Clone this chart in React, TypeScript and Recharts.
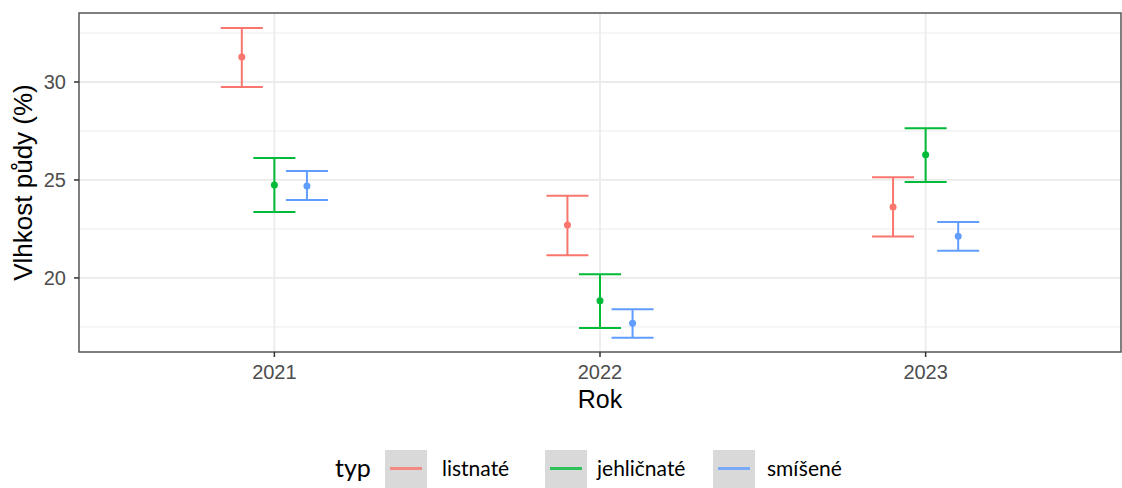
import React from 'react';
import {
  ScatterChart,
  Scatter,
  XAxis,
  YAxis,
  CartesianGrid,
  ErrorBar,
  ReferenceArea,
} from 'recharts';

// Roky (kategorie na ose x)
const years = [2021, 2022, 2023];

// Průměrná vlhkost půdy a meze chybových úseček
const listnateMean = [31.28, 22.7, 23.62];
const listnateLower = [29.74, 21.16, 22.11];
const listnateUpper = [32.76, 24.2, 25.14];

const jehlicnateMean = [24.74, 18.83, 26.28];
const jehlicnateLower = [23.37, 17.45, 24.9];
const jehlicnateUpper = [26.12, 20.19, 27.64];

const smiseneMean = [24.69, 17.69, 22.13];
const smiseneLower = [23.98, 16.95, 21.39];
const smiseneUpper = [25.46, 18.4, 22.86];

const yTicks = [20, 25, 30];
const yMinor = [17.5, 22.5, 27.5, 32.5];

const X_DOMAIN: [number, number] = [2020.4, 2023.6];
const Y_DOMAIN: [number, number] = [16.22, 33.52];
const DODGE = 0.1;

const colors = {
  listnate: '#F8766D',
  jehlicnate: '#00BA38',
  smisene: '#619CFF',
};

const buildSeries = (mean: number[], lower: number[], upper: number[], shift: number) =>
  years.map((year, i) => ({
    x: year + shift,
    y: mean[i],
    err: [mean[i] - lower[i], upper[i] - mean[i]],
  }));

const listnateData = buildSeries(listnateMean, listnateLower, listnateUpper, -DODGE);
const jehlicnateData = buildSeries(jehlicnateMean, jehlicnateLower, jehlicnateUpper, 0);
const smiseneData = buildSeries(smiseneMean, smiseneLower, smiseneUpper, DODGE);

const dot = (color: string) => (props: any) => (
  <circle cx={props.cx} cy={props.cy} r={3.5} fill={color} />
);

const tickStyle = { fontSize: 20, fill: '#4d4d4d', fontFamily: '"Liberation Sans", Arial, sans-serif' };

const legendItems = [
  { label: 'listnaté', color: colors.listnate, box: 385, text: 442 },
  { label: 'jehličnaté', color: colors.jehlicnate, box: 545, text: 597 },
  { label: 'smíšené', color: colors.smisene, box: 713, text: 767 },
];

const App: React.FC = () => {
  return (
    <div style={{ position: 'absolute', left: 0, top: 0, width: 1122, height: 488, background: '#fff' }}>
      <ScatterChart width={1122} height={488} margin={{ top: 13, right: 1, left: 0, bottom: 0 }}>
        <CartesianGrid
          horizontalValues={yMinor}
          vertical={false}
          stroke="#ebebeb"
          strokeWidth={1}
        />
        <CartesianGrid
          horizontalValues={yTicks}
          verticalValues={years}
          stroke="#ebebeb"
          strokeWidth={1.8}
        />
        <XAxis
          type="number"
          dataKey="x"
          domain={X_DOMAIN}
          ticks={years}
          allowDataOverflow
          height={136}
          axisLine={false}
          tickLine={{ stroke: '#333', strokeWidth: 1.5 }}
          tickSize={5}
          tickMargin={8}
          tick={tickStyle}
          label={{
            value: 'Rok',
            position: 'insideTop',
            offset: 38,
            style: { fontSize: 25, fill: '#000', fontFamily: '"Liberation Sans", Arial, sans-serif' },
          }}
        />
        <YAxis
          type="number"
          dataKey="y"
          domain={Y_DOMAIN}
          ticks={yTicks}
          allowDataOverflow
          width={79}
          axisLine={false}
          tickLine={{ stroke: '#333', strokeWidth: 1.5 }}
          tickSize={5}
          tickMargin={8}
          tick={tickStyle}
          label={{
            value: 'Vlhkost půdy (%)',
            angle: -90,
            position: 'insideLeft',
            offset: 23,
            style: { textAnchor: 'middle', fontSize: 26, fill: '#000', fontFamily: '"Liberation Sans", Arial, sans-serif' },
          }}
        />
        <ReferenceArea
          x1={X_DOMAIN[0]}
          x2={X_DOMAIN[1]}
          y1={Y_DOMAIN[0]}
          y2={Y_DOMAIN[1]}
          fill="none"
          stroke="#555"
          strokeWidth={1.5}
          ifOverflow="visible"
        />
        <Scatter data={listnateData} fill={colors.listnate} shape={dot(colors.listnate)} isAnimationActive={false}>
          <ErrorBar dataKey="err" direction="y" width={21} stroke={colors.listnate} strokeWidth={2} />
        </Scatter>
        <Scatter data={jehlicnateData} fill={colors.jehlicnate} shape={dot(colors.jehlicnate)} isAnimationActive={false}>
          <ErrorBar dataKey="err" direction="y" width={21} stroke={colors.jehlicnate} strokeWidth={2} />
        </Scatter>
        <Scatter data={smiseneData} fill={colors.smisene} shape={dot(colors.smisene)} isAnimationActive={false}>
          <ErrorBar dataKey="err" direction="y" width={21} stroke={colors.smisene} strokeWidth={2} />
        </Scatter>
      </ScatterChart>

      {/* legenda pod grafem */}
      <div style={{ position: 'absolute', left: 0, top: 0, width: 1122, height: 488, pointerEvents: 'none', fontFamily: 'Lato, "Open Sans", sans-serif', color: '#000' }}>
        <span style={{ position: 'absolute', left: 335, top: 450, fontSize: 25, lineHeight: '34px' }}>typ</span>
        {legendItems.map((item) => (
          <React.Fragment key={item.label}>
            <div style={{ position: 'absolute', left: item.box, top: 450, width: 42, height: 38, background: '#d9d9d9' }}>
              <div style={{ position: 'absolute', left: 5, right: 5, top: 17, height: 3, background: item.color, opacity: 0.8 }} />
            </div>
            <span style={{ position: 'absolute', left: item.text, top: 452, fontSize: 21, lineHeight: '32px' }}>{item.label}</span>
          </React.Fragment>
        ))}
      </div>
    </div>
  );
};

export default App;
